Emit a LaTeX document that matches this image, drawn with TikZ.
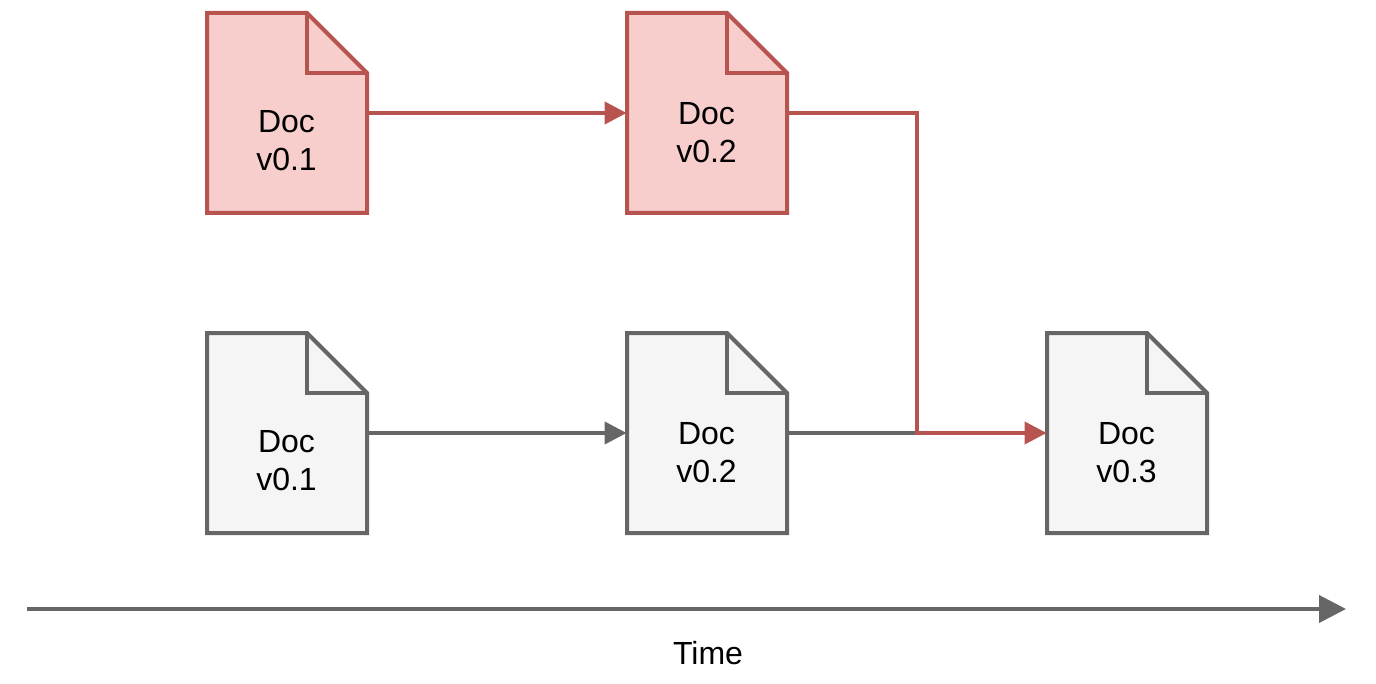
\documentclass[tikz,border=0pt]{standalone}
\usepackage{fontspec}
\setmainfont{Liberation Sans}
\usetikzlibrary{arrows.meta}
\definecolor{redline}{HTML}{B85450}
\definecolor{redfill}{HTML}{F8CECC}
\definecolor{greyline}{HTML}{666666}
\definecolor{greyfill}{HTML}{F5F5F5}
\tikzset{>={Triangle[length=11pt,width=11pt]}}
\tikzset{
    redstyle/.style={draw=redline,fill=redfill,line width=2pt,miter limit=10},
    greystyle/.style={draw=greyline,fill=greyfill,line width=2pt,miter limit=10},
    docbox/.style={minimum width=80pt,minimum height=100pt,inner sep=0pt},
    doctext/.style={align=center,font=\fontsize{16}{19}\selectfont,inner sep=0pt},
    redarrow/.style={draw=redline,line width=2pt},
    greyarrow/.style={draw=greyline,line width=2pt}
}
% name, centre, style, text shift, text
\newcommand{\docnode}[5]{
    \draw[#3] (#2) ++(-80,-100) -- ++(100,0) -- ++(60,60) -- ++(0,140) -- ++(-160,0) -- cycle;
    \draw[#3,fill=none] (#2) ++(20,-100) -- ++(0,60) -- ++(60,0);
    \node[docbox] (#1) at (#2) {};
    \node[doctext,xshift=-0.25pt,yshift=#4] (#1text) at (#2) {#5};
}
\begin{document}
\begin{tikzpicture}[x=0.5pt,y=-0.5pt]
    \useasboundingbox (0,0) rectangle (1376,684);

    % red documents
    \docnode{redA}{287,113}{redstyle}{-14pt}{Doc\\v0.1}
    \docnode{redB}{707,113}{redstyle}{-10pt}{Doc\\v0.2}
    % grey documents
    \docnode{greyA}{287,433}{greystyle}{-14pt}{Doc\\v0.1}
    \docnode{greyB}{707,433}{greystyle}{-10pt}{Doc\\v0.2}
    \docnode{greyC}{1127,433}{greystyle}{-10pt}{Doc\\v0.3}

    % grey history
    \coordinate (merge) at (917,433);
    \draw[greyarrow,->] (greyA.east) -- (greyB.west);
    \draw[greyarrow] (greyB.east) -- (merge);
    % red history
    \draw[redarrow,->] (redA.east) -- (redB.west);
    \draw[redarrow,->] (redB.east) -| (merge) -- (greyC.west);

    % time axis
    \coordinate (timestart) at (27,609);
    \coordinate (timeend) at (1346,609);
    \draw[greyarrow,-{Triangle[length=13.5pt,width=13.5pt]}] (timestart) -- (timeend);
    \node[doctext] (timelabel) at (708,653) {Time};
\end{tikzpicture}
\end{document}
